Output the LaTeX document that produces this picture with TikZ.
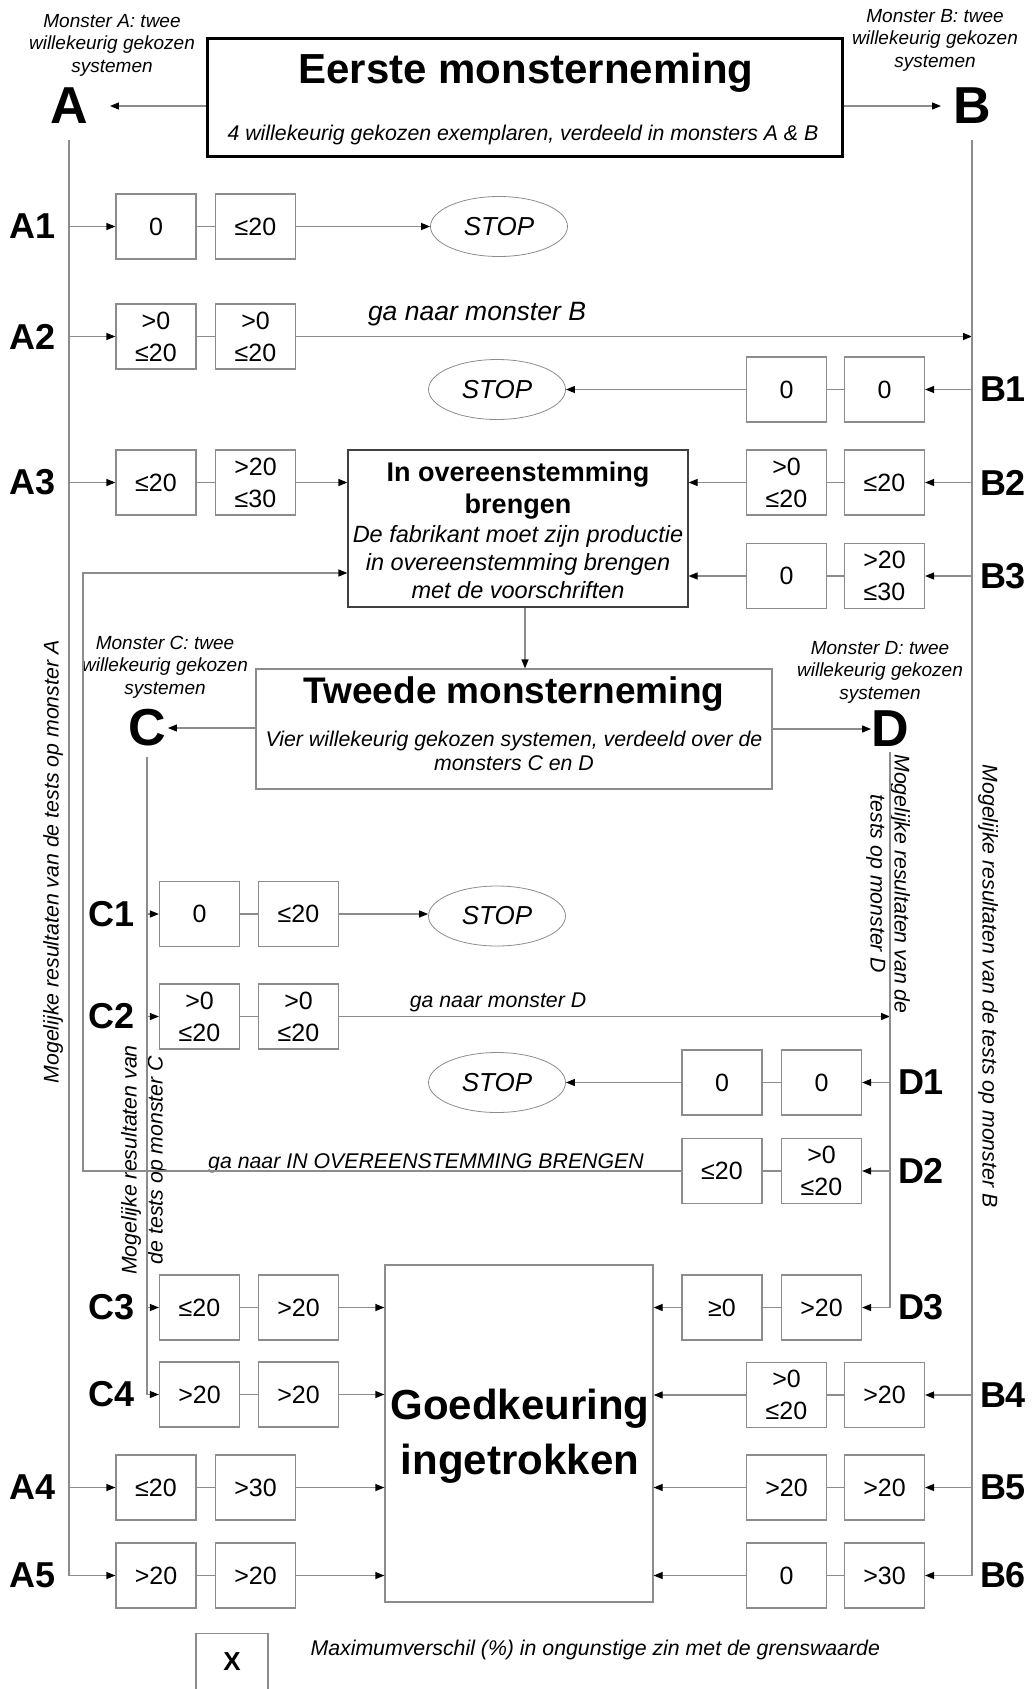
\documentclass[tikz,border=0pt]{standalone}
\usepackage{fontspec}
\setmainfont{Liberation Sans}
\usetikzlibrary{arrows.meta,shapes.geometric}

\definecolor{lgray}{gray}{0.55}

\newcommand{\valfont}{\fontsize{25}{32}\selectfont}
\newcommand{\notefont}{\fontsize{19}{22.5}\selectfont\itshape}
\newcommand{\sidefont}{\fontsize{21.3}{26}\selectfont\itshape}

\begin{document}
\begin{tikzpicture}[x=1pt, y=-1pt]
  \tikzstyle{valbox} = [draw=lgray, line width=1.2pt, minimum width=80pt, minimum height=65pt, inner sep=0pt, align=center, font=\valfont]
  \tikzstyle{rowlbl} = [inner sep=0pt, font=\fontsize{36}{36}\selectfont\bfseries]
  \tikzstyle{bigletter} = [inner sep=0pt, font=\fontsize{52}{52}\selectfont\bfseries]
  \tikzstyle{stopoval} = [draw=lgray, ellipse, line width=0.8pt, minimum width=137pt, minimum height=60pt, font=\fontsize{26}{26}\selectfont\itshape]
  \tikzstyle{conn} = [draw=lgray, line width=1.2pt]
  \tikzstyle{arr} = [conn, -{Triangle[length=9pt,width=7pt,color=black]}]
  \tikzstyle{caption} = [align=center, font=\notefont]
  \tikzstyle{sidetext} = [align=center, font=\sidefont]
  \useasboundingbox (0,0) rectangle (1035,1689);

  % eerste monsterneming
  \node[draw, line width=3pt, minimum width=635pt, minimum height=118pt] (eerste) at (524.5,97) {};
  \node[anchor=base, font=\fontsize{42}{42}\selectfont\bfseries] (eerstetitle) at (526,83) {Eerste monsterneming};
  \node[anchor=base, font=\sidefont] (eerstesub) at (523,140) {4 willekeurig gekozen exemplaren, verdeeld in monsters A \& B};
  \node[bigletter] (A) at (69,106) {A};
  \node[bigletter] (B) at (972,106) {B};
  \node[caption] (capA) at (112,45) {Monster A: twee\\willekeurig gekozen\\systemen};
  \node[caption] (capB) at (935,40) {Monster B: twee\\willekeurig gekozen\\systemen};
  \draw[arr, shorten >=22pt] (eerste.west |- A) -- (A);
  \draw[arr, shorten >=12pt] (eerste.east |- B) -- (B);

  % in overeenstemming brengen
  \node[draw=black!75, line width=1.2pt, minimum width=340pt, minimum height=157pt] (over) at (518,528.5) {};
  \node[align=center, font=\fontsize{27}{32}\selectfont\bfseries] (overtitle) at (518,491) {In overeenstemming\\brengen};
  \node[align=center, font=\fontsize{23.5}{28}\selectfont\itshape] (overtext) at (518,562) {De fabrikant moet zijn productie\\in overeenstemming brengen\\met de voorschriften};

  % tweede monsterneming
  \node[draw=lgray, line width=1.2pt, minimum width=516pt, minimum height=120pt] (tweede) at (514,729) {};
  \node[anchor=base, font=\fontsize{37}{37}\selectfont\bfseries] (tweedetitle) at (514,703) {Tweede monsterneming};
  \node[align=center, font=\fontsize{21.3}{24}\selectfont\itshape] (tweedesub) at (514,751) {Vier willekeurig gekozen systemen, verdeeld over de\\monsters C en D};
  \node[bigletter] (C) at (147,728) {C};
  \node[bigletter] (D) at (890,729) {D};
  \node[caption] (capC) at (165,667) {Monster C: twee\\willekeurig gekozen\\systemen};
  \node[caption] (capD) at (880,672) {Monster D: twee\\willekeurig gekozen\\systemen};
  \draw[arr] ([xshift=7pt]over.south) -- ([xshift=7pt]over.south |- tweede.north);
  \draw[arr, shorten >=2pt] (tweede.west |- C) -- (C);
  \draw[arr] (tweede.east |- D) -- (D);

  % goedkeuring ingetrokken
  \node[draw=lgray, line width=1.2pt, minimum width=268pt, minimum height=337pt] (goed) at (519,1433.5) {};
  \node[align=center, font=\fontsize{42}{55}\selectfont\bfseries] (goedtext) at (520,1436) {Goedkeuring\\ingetrokken};

  % side texts
  \node[sidetext, rotate=90] (resA) at (53,862) {Mogelijke resultaten van de tests op monster A};
  \node[sidetext, rotate=-90] (resB) at (988,986) {Mogelijke resultaten van de tests op monster B};
  \node[sidetext, rotate=90] (resC) at (144,1160) {Mogelijke resultaten van\\de tests op monster C};
  \node[sidetext, rotate=-90, font=\fontsize{21.3}{24}\selectfont\itshape] (resD) at (888,884) {Mogelijke resultaten van de\\tests op monster D};

  % monster A
  \node[rowlbl] (A1) at (33,226.5) {A1};
  \node[valbox] (A1a) at (156,226.5) {0};
  \node[valbox] (A1b) at (255.5,226.5) {≤20};
  \node[stopoval] (S1) at (499,226.5) {STOP};
  \node[rowlbl] (A2) at (33,336.5) {A2};
  \node[valbox] (A2a) at (156,336.5) {>0\\≤20};
  \node[valbox] (A2b) at (255.5,336.5) {>0\\≤20};
  \node[anchor=base, font=\fontsize{26.5}{26.5}\selectfont\itshape] (gotoB) at (477,320) {ga naar monster B};
  \node[rowlbl] (A3) at (33,482.5) {A3};
  \node[valbox] (A3a) at (156,482.5) {≤20};
  \node[valbox] (A3b) at (255.5,482.5) {>20\\≤30};
  \node[rowlbl] (A4) at (33,1487.5) {A4};
  \node[valbox] (A4a) at (156,1487.5) {≤20};
  \node[valbox] (A4b) at (255.5,1487.5) {>30};
  \node[rowlbl] (A5) at (33,1575.5) {A5};
  \node[valbox] (A5a) at (156,1575.5) {>20};
  \node[valbox] (A5b) at (255.5,1575.5) {>20};

  % monster B
  \node[rowlbl] (B1) at (1003,389.5) {B1};
  \node[valbox] (B1a) at (786.5,389.5) {0};
  \node[valbox] (B1b) at (884.5,389.5) {0};
  \node[stopoval] (S2) at (497,389.5) {STOP};
  \node[rowlbl] (B2) at (1003,482.5) {B2};
  \node[valbox] (B2a) at (786.5,482.5) {>0\\≤20};
  \node[valbox] (B2b) at (884.5,482.5) {≤20};
  \node[rowlbl] (B3) at (1003,576) {B3};
  \node[valbox] (B3a) at (786.5,576) {0};
  \node[valbox] (B3b) at (884.5,576) {>20\\≤30};
  \node[rowlbl] (B4) at (1003,1395) {B4};
  \node[valbox] (B4a) at (786.5,1395) {>0\\≤20};
  \node[valbox] (B4b) at (884.5,1395) {>20};
  \node[rowlbl] (B5) at (1003,1487.5) {B5};
  \node[valbox] (B5a) at (786.5,1487.5) {>20};
  \node[valbox] (B5b) at (884.5,1487.5) {>20};
  \node[rowlbl] (B6) at (1003,1575.5) {B6};
  \node[valbox] (B6a) at (786.5,1575.5) {0};
  \node[valbox] (B6b) at (884.5,1575.5) {>30};

  % monster C
  \node[rowlbl] (C1) at (112,914) {C1};
  \node[valbox] (C1a) at (199.5,914) {0};
  \node[valbox] (C1b) at (298.5,914) {≤20};
  \node[stopoval] (S3) at (497,916) {STOP};
  \node[rowlbl] (C2) at (112,1016.5) {C2};
  \node[valbox] (C2a) at (199.5,1016.5) {>0\\≤20};
  \node[valbox] (C2b) at (298.5,1016.5) {>0\\≤20};
  \node[anchor=base, font=\sidefont] (gotoD) at (498,1007) {ga naar monster D};
  \node[rowlbl] (C3) at (112,1307.5) {C3};
  \node[valbox] (C3a) at (199.5,1307.5) {≤20};
  \node[valbox] (C3b) at (298.5,1307.5) {>20};
  \node[rowlbl] (C4) at (112,1394.5) {C4};
  \node[valbox] (C4a) at (199.5,1394.5) {>20};
  \node[valbox] (C4b) at (298.5,1394.5) {>20};

  % monster D
  \node[rowlbl] (D1) at (921,1082.5) {D1};
  \node[valbox] (D1a) at (722,1082.5) {0};
  \node[valbox] (D1b) at (821.5,1082.5) {0};
  \node[stopoval] (S4) at (497,1082.5) {STOP};
  \node[rowlbl] (D2) at (921,1171) {D2};
  \node[valbox] (D2a) at (722,1171) {≤20};
  \node[valbox] (D2b) at (821.5,1171) {>0\\≤20};
  \node[anchor=base, font=\sidefont] (gotoover) at (426,1168) {ga naar IN OVEREENSTEMMING BRENGEN};
  \node[rowlbl] (D3) at (921,1307.5) {D3};
  \node[valbox] (D3a) at (722,1307.5) {≥0};
  \node[valbox] (D3b) at (821.5,1307.5) {>20};
  \coordinate (back) at (83,573);

  % links between the two results
  \draw[conn] (A1a) -- (A1b);
  \draw[conn] (A2a) -- (A2b);
  \draw[conn] (A3a) -- (A3b);
  \draw[conn] (A4a) -- (A4b);
  \draw[conn] (A5a) -- (A5b);
  \draw[conn] (B1a) -- (B1b);
  \draw[conn] (B2a) -- (B2b);
  \draw[conn] (B3a) -- (B3b);
  \draw[conn] (B4a) -- (B4b);
  \draw[conn] (B5a) -- (B5b);
  \draw[conn] (B6a) -- (B6b);
  \draw[conn] (C1a) -- (C1b);
  \draw[conn] (C2a) -- (C2b);
  \draw[conn] (C3a) -- (C3b);
  \draw[conn] (C4a) -- (C4b);
  \draw[conn] (D1a) -- (D1b);
  \draw[conn] (D2a) -- (D2b);
  \draw[conn] (D3a) -- (D3b);

  % A side
  \draw[arr, shorten <=16pt] (A) |- (A5a);
  \draw[arr] (A |- A1a) -- (A1a);
  \draw[arr] (A |- A2a) -- (A2a);
  \draw[arr] (A |- A3a) -- (A3a);
  \draw[arr] (A |- A4a) -- (A4a);
  \draw[arr] (A1b) -- (S1);
  \draw[arr] (A2b) -- (A2b -| B);
  \draw[arr] (A3b) -- (A3b -| over.west);
  \draw[arr] (A4b) -- (A4b -| goed.west);
  \draw[arr] (A5b) -- (A5b -| goed.west);

  % B side
  \draw[arr, shorten <=16pt] (B) |- (B6b);
  \draw[arr] (B |- B1b) -- (B1b);
  \draw[arr] (B |- B2b) -- (B2b);
  \draw[arr] (B |- B3b) -- (B3b);
  \draw[arr] (B |- B4b) -- (B4b);
  \draw[arr] (B |- B5b) -- (B5b);
  \draw[arr] (B1a) -- (S2);
  \draw[arr] (B2a) -- (B2a -| over.east);
  \draw[arr] (B3a) -- (B3a -| over.east);
  \draw[arr] (B4a) -- (B4a -| goed.east);
  \draw[arr] (B5a) -- (B5a -| goed.east);
  \draw[arr] (B6a) -- (B6a -| goed.east);

  % C side
  \draw[arr, shorten <=10pt] (C) |- (C4a);
  \draw[arr] (C |- C1a) -- (C1a);
  \draw[arr] (C |- C2a) -- (C2a);
  \draw[arr] (C |- C3a) -- (C3a);
  \draw[arr] (C1b) -- (C1b -| S3.west);
  \draw[arr] (C2b) -- (C2b -| D);
  \draw[arr] (C3b) -- (C3b -| goed.west);
  \draw[arr] (C4b) -- (C4b -| goed.west);

  % D side
  \draw[arr, shorten <=5pt] (D) |- (D3b);
  \draw[arr] (D |- D1b) -- (D1b);
  \draw[arr] (D |- D2b) -- (D2b);
  \draw[arr] (D1a) -- (S4);
  \draw[arr] (D2a) -| (back) -- (back -| over.west);
  \draw[arr] (D3a) -- (D3a -| goed.east);

  % legend
  \node[draw=lgray, line width=1.2pt, minimum width=72pt, minimum height=90pt, anchor=north] (xbox) at (232,1633) {};
  \node[font=\fontsize{26}{26}\selectfont\bfseries] (xlbl) at (232,1662) {X};
  \node[anchor=west, font=\sidefont] (legend) at (307,1650) {Maximumverschil (\%) in ongunstige zin met de grenswaarde};
\end{tikzpicture}
\end{document}
